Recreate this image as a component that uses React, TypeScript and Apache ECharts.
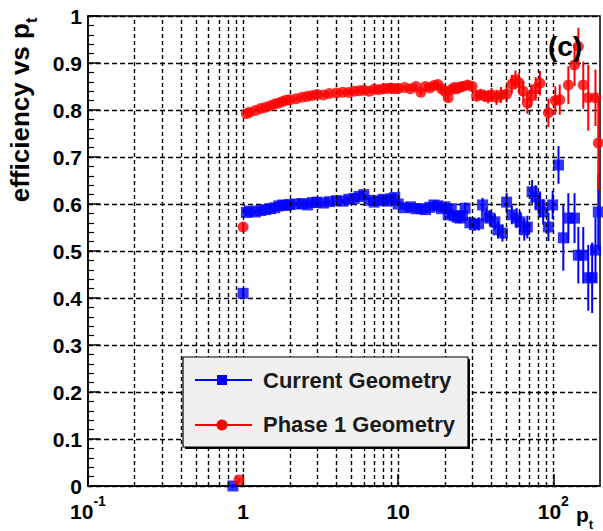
import React, { useEffect, useRef } from "react";
import * as echarts from "echarts";

const FONT = "'Liberation Sans', Arial, Helvetica, sans-serif";

// Phase 1 Geometry (red circles)
const redX = [0.94, 1.0, 1.05, 1.1, 1.2, 1.3, 1.4, 1.5, 1.6, 1.7, 1.8, 1.9, 2.0, 2.2, 2.4, 2.6, 2.8, 3.0, 3.3, 3.6, 4.0, 4.4, 4.8, 5.2, 5.6, 6.0, 6.5, 7.0, 7.5, 8.0, 8.5, 9.0, 9.5, 10, 11, 12, 13, 14, 15, 16, 17, 18, 19, 20, 21, 22, 23, 24, 25, 26, 28, 30, 32, 34, 36, 38, 40, 43, 46, 50, 54, 57, 60, 64, 68, 72, 77, 82, 93, 103, 110, 125, 137, 145, 156, 168, 187, 195];
const redY = [0.013, 0.551, 0.792, 0.795, 0.799, 0.803, 0.806, 0.809, 0.813, 0.815, 0.818, 0.821, 0.822, 0.824, 0.827, 0.829, 0.831, 0.833, 0.832, 0.835, 0.836, 0.838, 0.837, 0.84, 0.841, 0.842, 0.84, 0.844, 0.843, 0.845, 0.846, 0.847, 0.845, 0.846, 0.848, 0.845, 0.85, 0.838, 0.85, 0.847, 0.852, 0.854, 0.845, 0.84, 0.826, 0.843, 0.848, 0.845, 0.849, 0.85, 0.853, 0.85, 0.83, 0.833, 0.83, 0.828, 0.832, 0.827, 0.832, 0.834, 0.855, 0.864, 0.858, 0.84, 0.815, 0.83, 0.845, 0.857, 0.794, 0.82, 0.822, 0.853, 0.896, 0.935, 0.853, 0.826, 0.826, 0.73];
const redErr = [0.004, 0.01, 0.004, 0.004, 0.004, 0.004, 0.004, 0.004, 0.004, 0.004, 0.004, 0.004, 0.004, 0.004, 0.004, 0.004, 0.004, 0.004, 0.004, 0.004, 0.004, 0.004, 0.004, 0.004, 0.004, 0.004, 0.004, 0.004, 0.004, 0.004, 0.004, 0.004, 0.004, 0.005, 0.005, 0.005, 0.005, 0.005, 0.006, 0.006, 0.006, 0.006, 0.007, 0.008, 0.008, 0.008, 0.008, 0.009, 0.009, 0.01, 0.01, 0.011, 0.012, 0.012, 0.013, 0.014, 0.015, 0.016, 0.017, 0.018, 0.02, 0.02, 0.021, 0.022, 0.023, 0.024, 0.025, 0.026, 0.03, 0.03, 0.032, 0.04, 0.045, 0.04, 0.05, 0.07, 0.06, 0.1];

// Current Geometry (blue squares)
const blueX = [0.86, 1.0, 1.05, 1.1, 1.2, 1.3, 1.4, 1.5, 1.6, 1.7, 1.8, 1.9, 2.0, 2.2, 2.4, 2.6, 2.8, 3.0, 3.3, 3.6, 4.0, 4.4, 4.8, 5.2, 5.6, 6.0, 6.5, 7.0, 7.5, 8.0, 8.5, 9.0, 9.5, 10, 11, 12, 13, 14, 15, 16, 17, 18, 19, 20, 21, 22, 23, 24, 25, 26, 27, 29, 31, 33, 35, 37, 39, 42, 44, 47, 50, 54, 58, 61, 65, 68, 73, 77, 82, 86, 93, 99, 108, 116, 125, 137, 145, 156, 168, 178, 187, 195];
const blueY = [0.0, 0.41, 0.582, 0.585, 0.583, 0.586, 0.588, 0.59, 0.592, 0.596, 0.598, 0.597, 0.599, 0.6, 0.601, 0.598, 0.603, 0.604, 0.602, 0.605, 0.607, 0.606, 0.61, 0.612, 0.616, 0.62, 0.608, 0.604, 0.607, 0.61, 0.606, 0.611, 0.614, 0.6, 0.592, 0.594, 0.59, 0.59, 0.588, 0.593, 0.598, 0.596, 0.59, 0.594, 0.577, 0.59, 0.575, 0.572, 0.57, 0.575, 0.591, 0.56, 0.556, 0.558, 0.598, 0.575, 0.57, 0.562, 0.545, 0.538, 0.604, 0.577, 0.57, 0.562, 0.545, 0.551, 0.626, 0.615, 0.598, 0.583, 0.551, 0.598, 0.683, 0.528, 0.57, 0.57, 0.491, 0.491, 0.443, 0.443, 0.502, 0.583];
const blueErr = [0.004, 0.01, 0.004, 0.004, 0.004, 0.004, 0.004, 0.004, 0.004, 0.004, 0.004, 0.004, 0.004, 0.004, 0.004, 0.004, 0.004, 0.004, 0.004, 0.004, 0.004, 0.004, 0.004, 0.004, 0.004, 0.004, 0.004, 0.004, 0.004, 0.005, 0.005, 0.005, 0.005, 0.005, 0.005, 0.005, 0.006, 0.006, 0.006, 0.006, 0.007, 0.007, 0.007, 0.008, 0.009, 0.009, 0.01, 0.01, 0.011, 0.011, 0.012, 0.013, 0.013, 0.014, 0.015, 0.015, 0.016, 0.017, 0.017, 0.018, 0.02, 0.02, 0.021, 0.022, 0.023, 0.024, 0.025, 0.025, 0.026, 0.027, 0.03, 0.03, 0.04, 0.07, 0.053, 0.053, 0.06, 0.06, 0.07, 0.075, 0.07, 0.08];

// vertical grid positions (log decades & sub-decades)
const gridX = [0.2, 0.3, 0.4, 0.5, 0.6, 0.7, 0.8, 0.9, 1, 2, 3, 4, 5, 6, 7, 8, 9, 10, 20, 30, 40, 50, 60, 70, 80, 90, 100];

const X_MIN = 0.1;
const X_MAX = 200;

function errSeries(xs: number[], ys: number[], es: number[], color: string) {
  return {
    type: "custom",
    silent: true,
    clip: false,
    z: 3,
    data: xs.map((x, i) => [x, ys[i], ys[i] - es[i], ys[i] + es[i]]),
    encode: { x: 0, y: [1, 2, 3] },
    renderItem: (params: any, api: any) => {
      const x = api.value(0);
      const p1 = api.coord([x, api.value(2)]);
      const p2 = api.coord([x, api.value(3)]);
      return {
        type: "line",
        shape: { x1: p1[0], y1: p1[1], x2: p2[0], y2: p2[1] },
        style: { stroke: color, lineWidth: 2 },
      };
    },
  };
}

export default function App() {
  const ref = useRef<HTMLDivElement>(null);
  useEffect(() => {
    document.body.style.margin = "0";
    const chart = echarts.init(ref.current!, undefined, { renderer: "svg" });
    const option: any = {
      animation: false,
      backgroundColor: "#fff",
      grid: {
        left: 88,
        right: 3,
        top: 16,
        bottom: 45,
        show: true,
        borderColor: "#000",
        borderWidth: 1.5,
        backgroundColor: "transparent",
      },
      xAxis: {
        type: "log",
        logBase: 10,
        min: X_MIN,
        max: X_MAX,
        axisLine: { lineStyle: { color: "#000", width: 1.5 } },
        axisTick: { show: true, inside: true, length: 12, lineStyle: { color: "#000", width: 1.5 } },
        splitLine: { show: false },
        axisLabel: {
          showMaxLabel: false,
          margin: 8,
          color: "#000",
          formatter: (v: number) => {
            const e = Math.round(Math.log10(v));
            if (e === 0) return "{n|1}";
            if (e === 1) return "{n|10}";
            return `{n|10}{s|${e}}`;
          },
          rich: {
            n: { fontSize: 21, fontWeight: "bold", fontFamily: FONT, color: "#000", padding: [7, 0, 0, 0] },
            s: { fontSize: 14, fontWeight: "bold", fontFamily: FONT, color: "#000", verticalAlign: "top" },
          },
        },
      },
      yAxis: {
        type: "value",
        min: 0,
        max: 1,
        interval: 0.1,
        axisLine: { show: true, lineStyle: { color: "#000", width: 1.5 } },
        axisTick: { show: true, inside: true, length: 12, lineStyle: { color: "#000", width: 1.5 } },
        minorTick: { show: true, splitNumber: 5, length: 6, lineStyle: { color: "#000", width: 1.2 } },
        splitLine: { show: true, lineStyle: { color: "#000", width: 1.4, type: [5, 3] } },
        axisLabel: {
          margin: 6,
          color: "#000",
          fontSize: 21,
          fontWeight: "bold",
          fontFamily: FONT,
          formatter: (v: number) => (v === 0 ? "0" : v === 1 ? "1" : v.toFixed(1)),
        },
      },
      series: [
        {
          type: "line",
          data: [],
          silent: true,
          z: 1,
          markLine: {
            silent: true,
            symbol: ["none", "none"],
            label: { show: false },
            lineStyle: { color: "#000", width: 1.4, type: [4, 3] },
            data: gridX.map((x) => ({ xAxis: x })),
            animation: false,
          },
        },
        errSeries(blueX, blueY, blueErr, "#0000ff"),
        {
          name: "Current Geometry",
          type: "scatter",
          clip: false,
          z: 4,
          symbol: "rect",
          symbolSize: 11,
          itemStyle: { color: "#0000ff" },
          data: blueX.map((x, i) => [x, blueY[i]]),
        },
        errSeries(redX, redY, redErr, "#ff0000"),
        {
          name: "Phase 1 Geometry",
          type: "scatter",
          clip: false,
          z: 5,
          symbol: "circle",
          symbolSize: 11,
          itemStyle: { color: "#ff0000" },
          data: redX.map((x, i) => [x, redY[i]]),
        },
      ],
      graphic: [
        {
          type: "text",
          x: 23,
          y: 110,
          rotation: Math.PI / 2,
          z: 100,
          style: {
            text: "{a|efficiency vs p}{b|t}",
            align: "center",
            verticalAlign: "middle",
            rich: {
              a: { fontSize: 26, fontWeight: "bold", fontFamily: FONT, fill: "#000", padding: [0, 0, 7, 0] },
              b: { fontSize: 16, fontWeight: "bold", fontFamily: FONT, fill: "#000", verticalAlign: "bottom" },
            },
          },
        },
        {
          type: "text",
          x: 576,
          y: 504,
          z: 100,
          style: {
            text: "{a|p}{b|t}",
            rich: {
              a: { fontSize: 21, fontWeight: "bold", fontFamily: FONT, fill: "#000", padding: [0, 0, 6, 0] },
              b: { fontSize: 13, fontWeight: "bold", fontFamily: FONT, fill: "#000", verticalAlign: "bottom" },
            },
          },
        },
        {
          type: "text",
          x: 565,
          y: 46,
          z: 100,
          style: {
            text: "(c)",
            align: "center",
            verticalAlign: "middle",
            fontSize: 28,
            fontWeight: "bold",
            fontFamily: FONT,
            fill: "#000",
          },
        },
        {
          type: "group",
          z: 100,
          children: [
            { type: "rect", z: 100, shape: { x: 185, y: 359, width: 285, height: 90 }, style: { fill: "#000" } },
            { type: "rect", z: 101, shape: { x: 183, y: 357, width: 285, height: 90 }, style: { fill: "#f0f0f0", stroke: "#000", lineWidth: 1.2 } },
            { type: "line", z: 102, shape: { x1: 195, y1: 380, x2: 252, y2: 380 }, style: { stroke: "#0000ff", lineWidth: 2 } },
            { type: "rect", z: 103, shape: { x: 217, y: 375, width: 10, height: 10 }, style: { fill: "#0000ff" } },
            { type: "line", z: 102, shape: { x1: 195, y1: 425, x2: 252, y2: 425 }, style: { stroke: "#ff0000", lineWidth: 2 } },
            { type: "circle", z: 103, shape: { cx: 222, cy: 425, r: 5.5 }, style: { fill: "#ff0000" } },
            {
              type: "text",
              z: 103,
              x: 263,
              y: 380,
              style: { text: "Current Geometry", verticalAlign: "middle", fontSize: 22, fontWeight: "bold", fontFamily: FONT, fill: "#1a1a1a" },
            },
            {
              type: "text",
              z: 103,
              x: 263,
              y: 424,
              style: { text: "Phase 1 Geometry", verticalAlign: "middle", fontSize: 22, fontWeight: "bold", fontFamily: FONT, fill: "#1a1a1a" },
            },
          ],
        },
      ],
    };
    chart.setOption(option);
    return () => chart.dispose();
  }, []);
  return <div ref={ref} style={{ position: "absolute", left: 0, top: 0, width: 603, height: 531 }} />;
}
